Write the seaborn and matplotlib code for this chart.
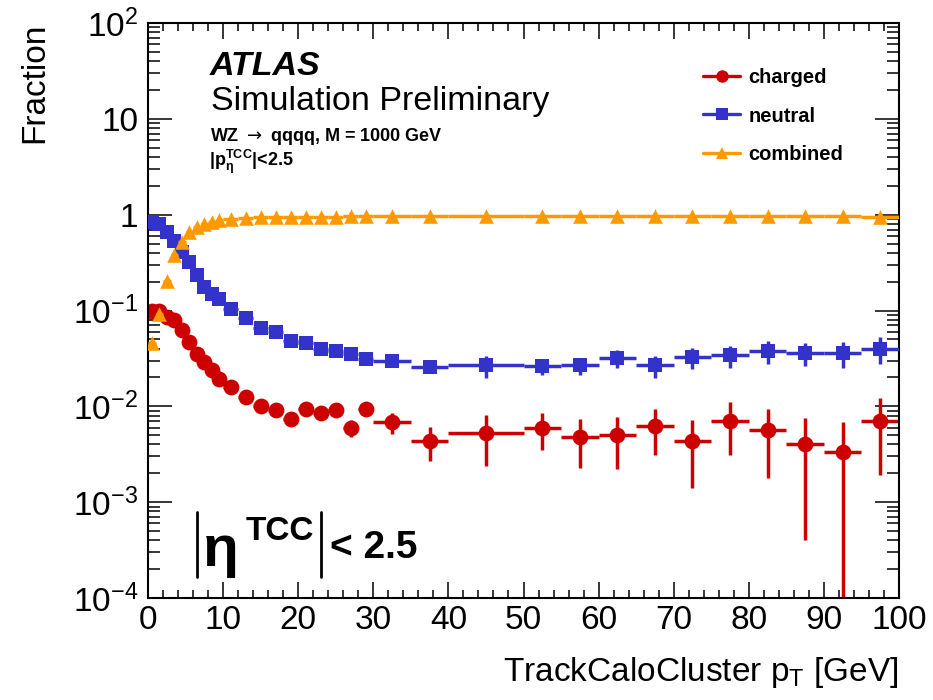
import numpy as np
import pandas as pd
import matplotlib
matplotlib.use("Agg")
import matplotlib.pyplot as plt
from matplotlib.lines import Line2D
from matplotlib.ticker import (FixedLocator, FixedFormatter, MultipleLocator,
                               LogLocator, NullFormatter)
import seaborn as sns

# ---- binning in TCC pT [GeV] ----
bin_edges = [0, 1, 2, 3, 4, 5, 6, 7, 8, 9, 10,
             12, 14, 16, 18, 20, 22, 24, 26, 28, 30,
             35, 40, 50, 55, 60, 65, 70, 75, 80, 85, 90, 95, 100]

# ---- fractions per TCC type ----
charged = [0.100, 0.098, 0.085, 0.079, 0.062, 0.047, 0.035, 0.029, 0.0237, 0.0194,
           0.0159, 0.0125, 0.0100, 0.0091, 0.0074, 0.0093, 0.0086, 0.0091, 0.0060, 0.0093,
           0.0069, 0.0044, 0.0053, 0.0060, 0.0048, 0.0050, 0.0062, 0.0043, 0.0071,
           0.0056, 0.0040, 0.0033, 0.0071]
charged_err = [0.004, 0.004, 0.003, 0.003, 0.002, 0.002, 0.0015, 0.0013, 0.0012, 0.0010,
               0.0008, 0.0007, 0.0006, 0.0006, 0.0006, 0.0007, 0.0007, 0.0010, 0.0012, 0.0012,
               0.0017, 0.0017, 0.0029, 0.0025, 0.0025, 0.0028, 0.0031, 0.0029, 0.0040,
               0.0038, 0.0036, 0.0035, 0.0052]

neutral = [0.83, 0.80, 0.655, 0.537, 0.405, 0.318, 0.232, 0.175, 0.149, 0.132,
           0.104, 0.084, 0.066, 0.059, 0.048, 0.046, 0.040, 0.038, 0.035, 0.031,
           0.030, 0.026, 0.0267, 0.0264, 0.0267, 0.032, 0.0267, 0.0327, 0.034,
           0.0377, 0.0363, 0.0363, 0.040]
neutral_err = [0.010, 0.010, 0.008, 0.007, 0.006, 0.005, 0.004, 0.003, 0.003, 0.003,
               0.002, 0.002, 0.0015, 0.0015, 0.0015, 0.0015, 0.0015, 0.0015, 0.0015, 0.0015,
               0.002, 0.0025, 0.007, 0.005, 0.0055, 0.007, 0.007, 0.008, 0.009,
               0.010, 0.010, 0.011, 0.0125]

combined = [0.046, 0.091, 0.205, 0.383, 0.52, 0.665, 0.75, 0.805, 0.845, 0.872,
            0.908, 0.93, 0.945, 0.95, 0.95, 0.955, 0.955, 0.955, 0.96, 0.96,
            0.965, 0.97, 0.97, 0.97, 0.965, 0.97, 0.965, 0.97, 0.965,
            0.965, 0.965, 0.965, 0.955]
combined_err = [0.003, 0.004, 0.005, 0.006, 0.006, 0.006, 0.006, 0.006, 0.006, 0.006,
                0.005, 0.005, 0.005, 0.005, 0.005, 0.005, 0.005, 0.005, 0.005, 0.005,
                0.005, 0.005, 0.005, 0.005, 0.005, 0.005, 0.005, 0.005, 0.005,
                0.005, 0.005, 0.005, 0.005]

series_names = ["charged", "neutral", "combined"]
series_colors = ["#cc0000", "#3333cc", "#ff9900"]
series_markers = ["o", "s", "^"]
series_sizes = [130, 110, 110]

ytick_values = [1e-4, 1e-3, 1e-2, 1e-1, 1, 10, 100]
ytick_labels = [r"$\mathdefault{10^{-4}}$", r"$\mathdefault{10^{-3}}$",
                r"$\mathdefault{10^{-2}}$", r"$\mathdefault{10^{-1}}$",
                "1", "10", r"$\mathdefault{10^{2}}$"]

# ---- long-form table ----
edges = np.asarray(bin_edges, dtype=float)
centers = 0.5 * (edges[:-1] + edges[1:])
half_widths = 0.5 * np.diff(edges)
frames = []
for name, vals, errs in zip(series_names, [charged, neutral, combined],
                            [charged_err, neutral_err, combined_err]):
    frames.append(pd.DataFrame({"pt": centers, "halfwidth": half_widths,
                                "fraction": vals, "err": errs, "type": name}))
df = pd.concat(frames, ignore_index=True)

# ---- style ----
sns.set_theme(style="ticks")
plt.rcParams["font.family"] = ["Liberation Sans", "DejaVu Sans"]
plt.rcParams.update({
    "axes.linewidth": 1.5,
    "axes.edgecolor": "black",
    "text.color": "black",
    "axes.labelcolor": "black",
    "xtick.color": "black",
    "ytick.color": "black",
    "xtick.labelcolor": "black",
    "ytick.labelcolor": "black",
})

fig = plt.figure(figsize=(9.33, 7.0), dpi=100)
ax = fig.add_axes([148 / 933, 102 / 700, 751 / 933, 575 / 700])
ax.set_yscale("log", nonpositive="clip")

for i, (name, color, marker, size) in enumerate(zip(series_names, series_colors,
                                                    series_markers, series_sizes)):
    sub = df[df["type"] == name]
    ax.errorbar(sub["pt"], sub["fraction"], xerr=sub["halfwidth"], yerr=sub["err"],
                fmt="none", ecolor=color, elinewidth=2.5, capsize=0, zorder=2 + i)
    sns.scatterplot(data=sub, x="pt", y="fraction", ax=ax, color=color, marker=marker,
                    s=size, linewidth=0, zorder=2.5 + i, legend=False)

ax.set_xlim(0, 100)
ax.set_ylim(1e-4, 1e2)
ax.xaxis.set_major_locator(MultipleLocator(10))
ax.xaxis.set_minor_locator(MultipleLocator(2))
ax.yaxis.set_major_locator(FixedLocator(ytick_values))
ax.yaxis.set_major_formatter(FixedFormatter(ytick_labels))
ax.yaxis.set_minor_locator(LogLocator(base=10, subs=range(2, 10)))
ax.yaxis.set_minor_formatter(NullFormatter())

ax.tick_params(which="both", direction="in", top=True, right=True,
               color="black", width=1.1, labelsize=24)
ax.tick_params(axis="x", which="major", length=11.5, pad=5)
ax.tick_params(axis="x", which="minor", length=6)
ax.tick_params(axis="y", which="major", length=17, pad=7)
ax.tick_params(axis="y", which="minor", length=8.5)

ax.set_xlabel(r"TrackCaloCluster p$_{\mathdefault{T}}$ [GeV]", fontsize=24, loc="right")
ax.xaxis.set_label_coords(1.0, -0.1)
ax.set_ylabel("Fraction", fontsize=24, loc="top")
ax.yaxis.set_label_coords(-0.130, 1.0)

# ---- annotations ----
fig.text(210 / 933, 1 - 75 / 700, "ATLAS", fontsize=24.5, fontweight="bold",
         fontstyle="italic", va="baseline")
fig.text(211 / 933, 1 - 110 / 700, "Simulation Preliminary", fontsize=24.5, va="baseline")
fig.text(210 / 933, 1 - 141 / 700, r"WZ $\rightarrow$ qqqq, M = 1000 GeV", fontsize=13,
         fontweight="bold", va="baseline")
fig.text(209 / 933, 1 - 166 / 700, r"$\mathdefault{|p_{\eta}^{TCC}|}$<2.5",
         fontsize=13, fontweight="bold", va="baseline")

for xb in (197, 321):
    fig.add_artist(Line2D([xb / 933, xb / 933], [1 - 512 / 700, 1 - 577 / 700],
                          transform=fig.transFigure, color="black", lw=2.0))
fig.text(203 / 933, 1 - 566 / 700, "\u03b7", fontsize=42, fontweight="bold", va="baseline")
fig.text(246 / 933, 1 - 540 / 700, "TCC", fontsize=24, fontweight="bold", va="baseline")
fig.text(330 / 933, 1 - 558 / 700, "< 2.5", fontsize=28, fontweight="bold", va="baseline")

handles = [Line2D([], [], color=c, marker=m, markersize=9, lw=2.4, markeredgewidth=0)
           for c, m in zip(series_colors, series_markers)]
ax.legend(handles, series_names, loc="upper left",
          bbox_to_anchor=(703 / 933, 1 - 68 / 700), bbox_transform=fig.transFigure,
          frameon=False, prop=dict(weight="bold", size=14.5), handlelength=1.85,
          handletextpad=0.4, labelspacing=0.97, borderpad=0, borderaxespad=0)

fig.savefig("out.png", dpi=100, facecolor="white")
